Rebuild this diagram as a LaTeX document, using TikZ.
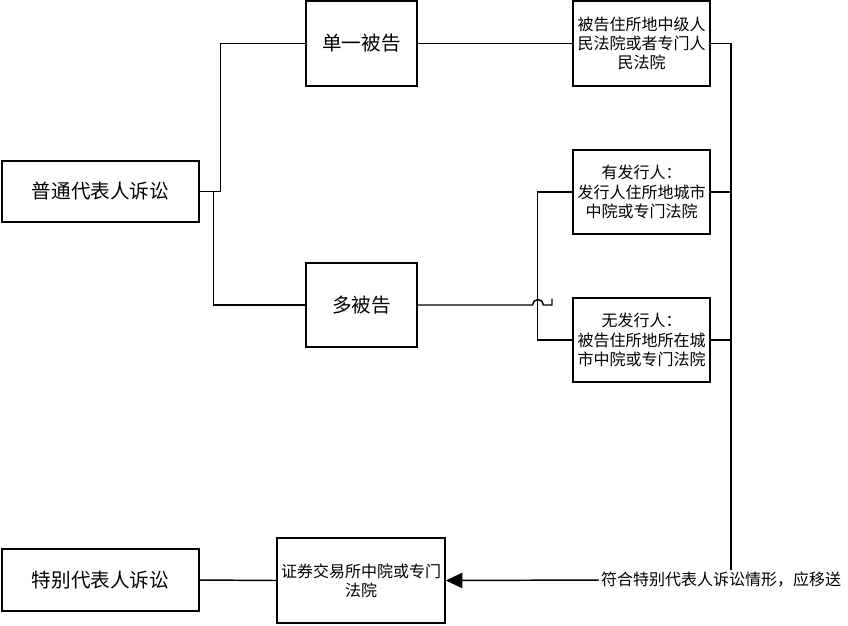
\documentclass[tikz,border=0pt]{standalone}
\usepackage{fontspec}
\setmainfont{Noto Sans CJK SC}
\usepackage{tikz}
\usetikzlibrary{arrows.meta,positioning,calc}

\begin{document}
\begin{tikzpicture}[
  x=0.75pt,y=-0.75pt,
  line width=1.1pt,
  link/.style={draw=black,line width=1.1pt},
  arrow/.style={link,-{Triangle[length=12.5pt,width=11.5pt]}},
  bigbox/.style={draw=black,line width=1.1pt,align=center,inner sep=0pt,
    font=\fontsize{14.7}{17}\selectfont},
  courtbox/.style={draw=black,line width=1.1pt,align=center,inner sep=0pt,
    minimum width=102.75pt,minimum height=63.75pt,
    font=\fontsize{12}{14.5}\selectfont},
  note/.style={font=\fontsize{12}{14.5}\selectfont,inner sep=1pt}
]
\useasboundingbox (0,0) rectangle (848,625);

% Ordinary representative action.
\node[bigbox,minimum width=147.75pt,minimum height=45.75pt] (ordinary) at (100.5,191.5) {普通代表人诉讼};
\node[bigbox,minimum width=83.25pt,minimum height=63.75pt] (single) at (361.5,43.5) {单一被告};
\node[bigbox,minimum width=83.25pt,minimum height=63pt] (multi) at (361.5,305) {多被告};

\node[courtbox] (court) at (641.5,43.5) {被告住所地中级人\\民法院或者专门人\\民法院};
\node[courtbox,minimum height=63pt] (issuer) at (641.5,192) {有发行人：\\发行人住所地城市\\中院或专门法院};
\node[courtbox,minimum height=63pt] (noissuer) at (641.5,340) {无发行人：\\被告住所地所在城\\市中院或专门法院};

\draw[link] (ordinary.east) -- ++(21,0) |- (single.west);
\draw[link] (ordinary.east) -- ++(14,0) |- (multi.west);
\draw[link] (single.east) -- (court.west);

% Issuer branch, crossed by the line from the multi box.
\draw[link] (issuer.west) -- ++(-35,0) |- (noissuer.west);
\coordinate (hop) at (532.5,305);
\draw[link] (multi.east) -- (hop) arc[start angle=180,end angle=0,radius=4.1pt]
  -- (552,305) -- (552,298.5);

% Special representative action.
\node[bigbox,minimum width=147.75pt,minimum height=46.5pt] (special) at (100.5,580) {特别代表人诉讼};
\node[courtbox,minimum width=126pt] (exchange) at (361,580.5) {证券交易所中院或专门\\法院};
\node[note] (transfer) at (721,580) {符合特别代表人诉讼情形，应移送};

% Right collecting line.
\coordinate (bus) at (731,43.5);
\draw[link] (court.east) -- (bus) -- (bus |- transfer.north);
\draw[link] (issuer.east) -- (issuer.east -| bus);
\draw[link] (noissuer.east) -- (noissuer.east -| bus);
\draw[arrow] (transfer.west) -- (exchange.east);
\draw[link] (special.east) -- (exchange.west);
\end{tikzpicture}
\end{document}
